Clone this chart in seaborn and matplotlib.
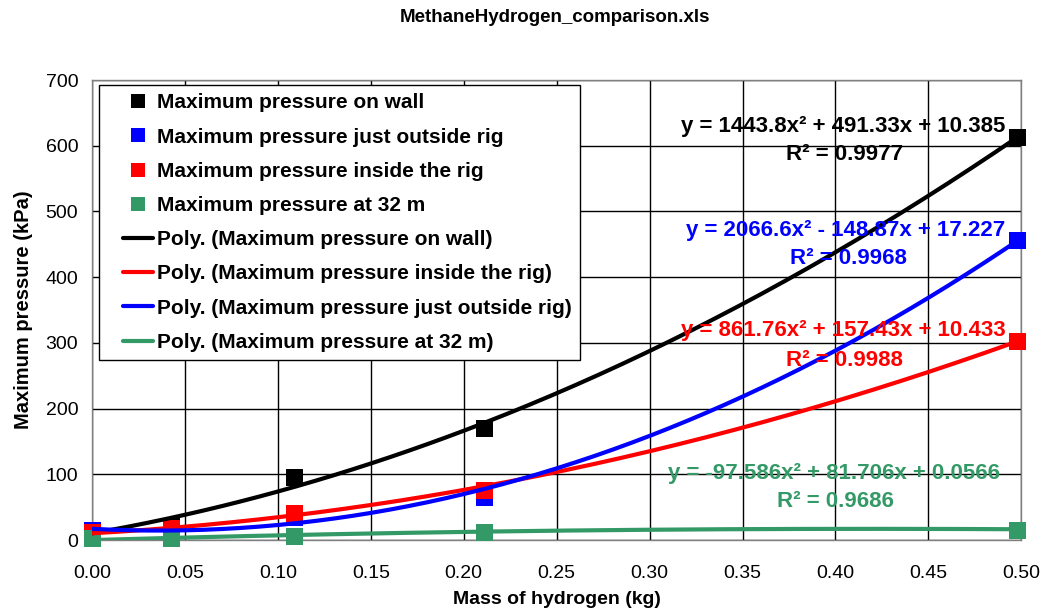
import numpy as np
import pandas as pd
import seaborn as sns
import matplotlib
matplotlib.use("Agg")
import matplotlib.pyplot as plt
from matplotlib.lines import Line2D
from matplotlib.legend_handler import HandlerLine2D

sns.set_style("white")
plt.rcParams['font.family'] = ['Liberation Sans', 'DejaVu Sans']
plt.rcParams['text.color'] = 'black'
plt.rcParams['axes.labelcolor'] = 'black'
plt.rcParams['xtick.color'] = 'black'
plt.rcParams['ytick.color'] = 'black'

# ---- data ----
mass = [0.0, 0.043, 0.109, 0.211, 0.498]
p_wall = [14, 20, 96, 170, 613]
p_outside = [14, 15, 35, 65, 456]
p_inside = [12, 18, 41, 76, 302]
p_32m = [2, 2, 6, 12, 15]

series_names = ["Maximum pressure on wall", "Maximum pressure just outside rig",
                "Maximum pressure inside the rig", "Maximum pressure at 32 m"]
series_colors = ["#000000", "#0000FF", "#FF0000", "#339966"]

# trendline coefficients (a, b, c) for y = a x^2 + b x + c
coef_wall = [1443.8, 491.33, 10.385]
coef_outside = [2066.6, -148.87, 17.227]
coef_inside = [861.76, 157.43, 10.433]
coef_32m = [-97.586, 81.706, 0.0566]
r2_values = ["0.9977", "0.9968", "0.9988", "0.9686"]
eq_texts = ["y = 1443.8x² + 491.33x + 10.385",
            "y = 2066.6x² - 148.87x + 17.227",
            "y = 861.76x² + 157.43x + 10.433",
            "y = -97.586x² + 81.706x + 0.0566"]

x_ticks = [0.00, 0.05, 0.10, 0.15, 0.20, 0.25, 0.30, 0.35, 0.40, 0.45, 0.50]
y_ticks = [0, 100, 200, 300, 400, 500, 600, 700]

values = [p_wall, p_outside, p_inside, p_32m]
coefs = [coef_wall, coef_outside, coef_inside, coef_32m]

df = pd.DataFrame({
    "mass": np.tile(mass, 4),
    "pressure": np.concatenate(values),
    "series": np.repeat(series_names, len(mass)),
})

xfit = np.linspace(min(mass), max(mass), 200)
fit_rows = []
for name, c in zip(series_names, coefs):
    fit_rows.append(pd.DataFrame({"mass": xfit, "pressure": np.polyval(c, xfit),
                                  "series": name}))
fit_df = pd.concat(fit_rows, ignore_index=True)

fig = plt.figure(figsize=(10.4, 6.11), dpi=100)
ax = fig.add_axes([0.0885, 0.116, 0.8935, 0.753])

palette = dict(zip(series_names, series_colors))
sns.scatterplot(data=df, x="mass", y="pressure", hue="series", palette=palette,
                marker="s", s=150, linewidth=0, ax=ax, legend=False, zorder=3,
                clip_on=False)
line_order = ["Maximum pressure on wall", "Maximum pressure inside the rig",
              "Maximum pressure just outside rig", "Maximum pressure at 32 m"]
for name in line_order:
    sns.lineplot(data=fit_df[fit_df.series == name], x="mass", y="pressure",
                 color=palette[name], linewidth=3, ax=ax, legend=False, zorder=4)

ax.set_xlim(0, 0.5)
ax.set_ylim(0, 700)
ax.set_xticks(x_ticks)
ax.set_yticks(y_ticks)
ax.set_xticklabels([f"{t:.2f}" for t in x_ticks], fontsize=14)
ax.set_yticklabels([str(t) for t in y_ticks], fontsize=14)
ax.grid(True, color="black", linewidth=1)
ax.set_axisbelow(True)
for s in ax.spines.values():
    s.set_color("#808080")
    s.set_linewidth(1)
ax.tick_params(axis="x", direction="inout", length=8, color="#808080", width=1, pad=14)
ax.tick_params(axis="y", direction="inout", length=8, color="#808080", width=1, pad=6)

ax.set_xlabel("Mass of hydrogen (kg)", fontsize=14, fontweight="bold", labelpad=6.5)
ax.set_ylabel("Maximum pressure (kPa)", fontsize=14.5, fontweight="bold", labelpad=9)
fig.suptitle("MethaneHydrogen_comparison.xls", x=0.534, y=0.985, fontsize=13.5,
             fontweight="bold")

# equation annotations
eq_pos = [(0.4915, 127, 155), (0.4915, 230, 258), (0.4915, 330, 360), (0.4885, 473, 501)]
r2_x = [0.405, 0.407, 0.405, 0.40]
for txt, r2, col, (xe, ye, yr), xr in zip(eq_texts, r2_values, series_colors, eq_pos, r2_x):
    ax.text(xe, (540 - ye) / 0.657, txt, color=col, fontsize=16, fontweight="bold",
            ha="right", va="center", zorder=6)
    ax.text(xr, (540 - yr) / 0.657, f"R² = {r2}", color=col, fontsize=16,
            fontweight="bold", ha="center", va="center", zorder=6)

# legend
handles = []
labels = []
for name, col in zip(series_names, series_colors):
    handles.append(Line2D([], [], linestyle="none", marker="s", markersize=10,
                          color=col, markeredgewidth=0))
    labels.append(name)
for name in line_order:
    handles.append(Line2D([], [], color=palette[name], linewidth=3))
    labels.append(f"Poly. ({name})")
leg = ax.legend(handles, labels, loc="upper left", bbox_to_anchor=(0.0075, 0.989),
                borderaxespad=0, frameon=True, fancybox=False, framealpha=1,
                edgecolor="black", prop={"size": 15, "weight": "bold"},
                handlelength=2.2, handletextpad=0.2, labelspacing=0.73,
                borderpad=0.4, handler_map={Line2D: HandlerLine2D(xpad=0.75)})
leg.get_frame().set_linewidth(1)
leg.set_zorder(5)

fig.savefig("out.png", dpi=100, facecolor="white")
